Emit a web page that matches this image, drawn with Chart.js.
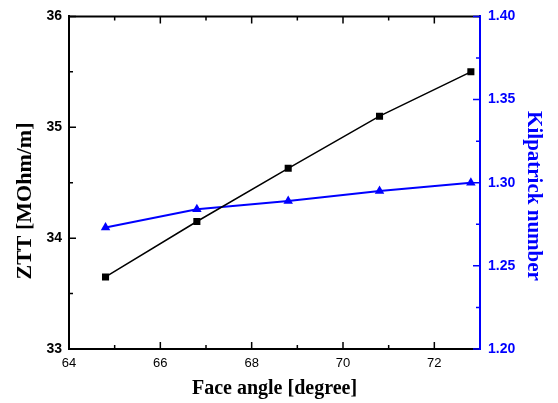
<!DOCTYPE html>
<html lang="en">
<head>
    <meta charset="UTF-8">
    <title>ZTT and Kilpatrick number vs face angle</title>
    <script src="https://cdn.jsdelivr.net/npm/chart.js@4.4.1/dist/chart.umd.min.js"></script>
    <style>
        body { margin: 0; background: #fff; }
        #wrap { width: 558px; height: 403px; }
    </style>
</head>
<body>
    <div id="wrap"><canvas id="faceChart" width="558" height="403"></canvas></div>

    <script>
        // data
        const faceAngle = [64.8, 66.8, 68.8, 70.8, 72.8];
        const ztt = [33.65, 34.15, 34.63, 35.10, 35.50];
        const kilpatrick = [1.273, 1.284, 1.289, 1.295, 1.300];

        // tick positions
        const xTicks = [64, 66, 68, 70, 72];
        const xMinor = [65, 67, 69, 71];
        const zttTicks = [33, 34, 35, 36];
        const zttMinor = [33.5, 34.5, 35.5];
        const kTicks = [1.20, 1.25, 1.30, 1.35, 1.40];
        const kMinor = [1.225, 1.275, 1.325, 1.375];

        const BLUE = '#0000ff';

        // inward ticks, top frame line and axis titles
        const frame = {
            id: 'frame',
            afterDraw(chart) {
                const ctx = chart.ctx;
                const a = chart.chartArea;
                const sx = chart.scales.x, sl = chart.scales.y, sr = chart.scales.y2;
                ctx.save();
                ctx.lineWidth = 2;
                ctx.strokeStyle = '#000';
                ctx.beginPath();
                ctx.moveTo(a.left - 1, a.top);
                ctx.lineTo(a.right, a.top);
                ctx.stroke();

                ctx.lineWidth = 1.5;
                function vtick(v, len) {
                    const px = sx.getPixelForValue(v);
                    ctx.moveTo(px, a.bottom); ctx.lineTo(px, a.bottom - len);
                    ctx.moveTo(px, a.top); ctx.lineTo(px, a.top + len);
                }
                ctx.beginPath();
                xTicks.forEach(v => vtick(v, 7));
                xMinor.forEach(v => vtick(v, 4));
                zttTicks.forEach(v => {
                    const py = sl.getPixelForValue(v);
                    ctx.moveTo(a.left, py); ctx.lineTo(a.left + 7, py);
                });
                zttMinor.forEach(v => {
                    const py = sl.getPixelForValue(v);
                    ctx.moveTo(a.left, py); ctx.lineTo(a.left + 4, py);
                });
                ctx.stroke();

                ctx.strokeStyle = BLUE;
                ctx.beginPath();
                kTicks.forEach(v => {
                    const py = sr.getPixelForValue(v);
                    ctx.moveTo(a.right, py); ctx.lineTo(a.right - 7, py);
                });
                kMinor.forEach(v => {
                    const py = sr.getPixelForValue(v);
                    ctx.moveTo(a.right, py); ctx.lineTo(a.right - 4, py);
                });
                ctx.stroke();

                ctx.textAlign = 'center';
                ctx.textBaseline = 'middle';
                ctx.fillStyle = '#000';
                ctx.font = 'bold 20px "Liberation Serif", "Times New Roman", serif';
                ctx.fillText('Face angle [degree]', (a.left + a.right) / 2, 389);

                ctx.save();
                ctx.translate(25, 201);
                ctx.rotate(-Math.PI / 2);
                ctx.font = 'bold 22px "Liberation Serif", "Times New Roman", serif';
                ctx.fillText('ZTT [MOhm/m]', 0, 0);
                ctx.restore();

                ctx.save();
                ctx.translate(533, 196);
                ctx.rotate(Math.PI / 2);
                ctx.fillStyle = BLUE;
                ctx.font = 'bold 21px "Liberation Serif", "Times New Roman", serif';
                ctx.fillText('Kilpatrick number', 0, 0);
                ctx.restore();

                ctx.restore();
            }
        };

        const ctx = document.getElementById('faceChart').getContext('2d');
        const faceChart = new Chart(ctx, {
            type: 'line',
            data: {
                datasets: [{
                    label: 'ZTT',
                    data: faceAngle.map((x, i) => ({ x: x, y: ztt[i] })),
                    yAxisID: 'y',
                    borderColor: '#000',
                    backgroundColor: '#000',
                    borderWidth: 1.5,
                    pointStyle: 'rect',
                    pointRadius: 5,
                    pointBorderWidth: 0,
                    tension: 0
                }, {
                    label: 'Kilpatrick number',
                    data: faceAngle.map((x, i) => ({ x: x, y: kilpatrick[i] })),
                    yAxisID: 'y2',
                    borderColor: BLUE,
                    backgroundColor: BLUE,
                    borderWidth: 2,
                    pointStyle: 'triangle',
                    pointRadius: 5.5,
                    pointBorderWidth: 0,
                    tension: 0
                }]
            },
            options: {
                responsive: false,
                animation: false,
                events: [],
                layout: { padding: { top: 14, left: 0, right: 0, bottom: 0 } },
                plugins: {
                    legend: { display: false },
                    tooltip: { enabled: false }
                },
                scales: {
                    x: {
                        type: 'linear',
                        min: 64,
                        max: 73,
                        afterBuildTicks: s => { s.ticks = xTicks.map(v => ({ value: v })); },
                        afterFit: s => { s.height = 54; },
                        grid: { display: false, drawTicks: false },
                        border: { display: true, color: '#000', width: 2 },
                        ticks: {
                            padding: 7,
                            color: '#000',
                            maxRotation: 0,
                            font: { family: '"Liberation Sans", Arial, sans-serif', size: 13 }
                        }
                    },
                    y: {
                        type: 'linear',
                        position: 'left',
                        min: 33,
                        max: 36,
                        afterBuildTicks: s => { s.ticks = zttTicks.map(v => ({ value: v })); },
                        afterFit: s => { s.width = 69; },
                        grid: { display: false, drawTicks: false },
                        border: { display: true, color: '#000', width: 2 },
                        ticks: {
                            padding: 7,
                            color: '#000',
                            font: { family: '"Liberation Sans", Arial, sans-serif', size: 14, weight: 'bold' }
                        }
                    },
                    y2: {
                        type: 'linear',
                        position: 'right',
                        min: 1.20,
                        max: 1.40,
                        afterBuildTicks: s => { s.ticks = kTicks.map(v => ({ value: v })); },
                        afterFit: s => { s.width = 78; },
                        grid: { display: false, drawTicks: false },
                        border: { display: true, color: BLUE, width: 2 },
                        ticks: {
                            padding: 8,
                            color: BLUE,
                            callback: v => v.toFixed(2),
                            font: { family: '"Liberation Sans", Arial, sans-serif', size: 14, weight: 'bold' }
                        }
                    }
                }
            },
            plugins: [frame]
        });
    </script>
</body>
</html>
